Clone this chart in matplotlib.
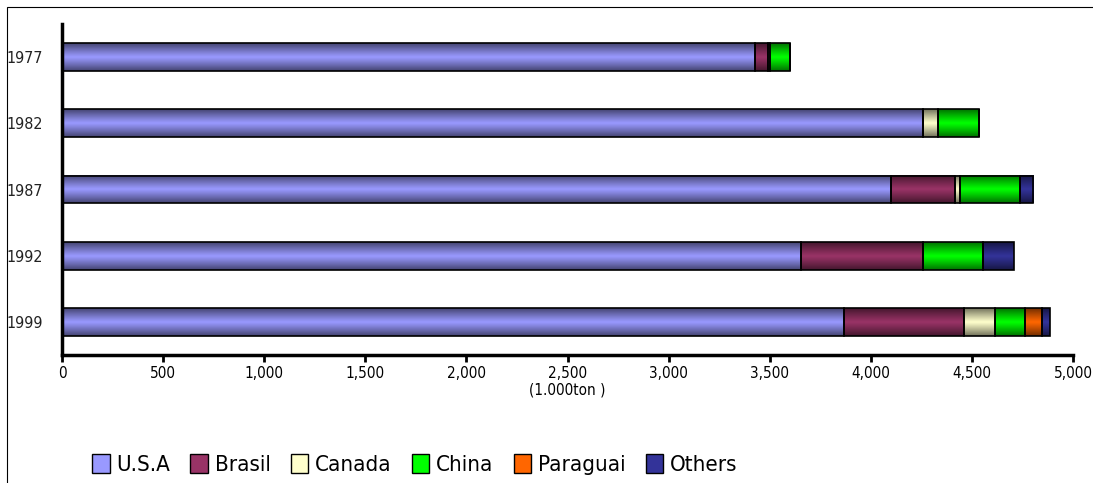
import numpy as np
import matplotlib.pyplot as plt
from matplotlib.patches import Rectangle
from matplotlib.ticker import FuncFormatter
from matplotlib.colors import to_rgb

years = ['1977', '1982', '1987', '1992', '1999']
countries = ['U.S.A', 'Brasil', 'Canada', 'China', 'Paraguai', 'Others']
colors = ['#9999FF', '#993366', '#FFFFCC', '#00FF00', '#FF6600', '#333399']

usa      = [3427, 4257, 4100, 3653, 3867]
brasil   = [65,   0,    315,  603,  592]
canada   = [10,   74,   28,   0,    155]
china    = [98,   204,  293,  299,  150]
paraguai = [0,    0,    0,    0,    83]
others   = [0,    0,    68,   152,  38]
series = [usa, brasil, canada, china, paraguai, others]

plt.rcParams['font.family'] = 'DejaVu Sans'
plt.rcParams['font.stretch'] = 'condensed'

fig = plt.figure(figsize=(10.93, 4.83), dpi=100)
ax = fig.add_axes([62/1093, 1-355/483, (1073-62)/1093, (355-24)/483])

# outer frame
fig.patches.append(Rectangle((7/1093, -0.05), 1.2, 1-7/483+0.05, transform=fig.transFigure,
                             fill=False, edgecolor='#000000', lw=0.8))

ypos = np.arange(len(years))
h = 0.42
left = np.zeros(len(years))

# vertical shading profile for each bar
prof = np.linspace(-1, 1, 40)
shade = 1 - 0.55 * np.abs(prof) ** 1.1

for vals, c, name in zip(series, colors, countries):
    vals = np.array(vals, dtype=float)
    bars = ax.barh(ypos, vals, height=h, left=left, color=c, edgecolor='black', lw=1.2,
                   label=name, zorder=3)
    rgb = np.array(to_rgb(c))
    img = np.clip(shade[:, None] * rgb[None, :], 0, 1)[:, None, :]
    for b in bars:
        if b.get_width() <= 0:
            continue
        x0, y0, w, hh = b.get_x(), b.get_y(), b.get_width(), b.get_height()
        ax.imshow(img, extent=(x0, x0 + w, y0, y0 + hh), aspect='auto', zorder=2.5,
                  interpolation='bilinear', origin='lower')
        b.set_facecolor('none')
    left += vals

ax.set_xlim(0, 5000)
ax.set_ylim(len(years) - 0.5, -0.5)
ax.set_yticks(ypos)
ax.set_yticklabels(years, fontsize=11.5, color='#222222')
ax.tick_params(axis='y', length=0, pad=14)
ax.set_xticks(np.arange(0, 5001, 500))
ax.xaxis.set_major_formatter(FuncFormatter(lambda v, p: f'{int(v):,}'))
ax.tick_params(axis='x', length=5, width=2, labelsize=11, pad=3, colors='black')
for s in ['top', 'right']:
    ax.spines[s].set_visible(False)
ax.spines['left'].set_linewidth(2.5)
ax.spines['bottom'].set_linewidth(2.5)
ax.set_xlabel('(1.000ton )', fontsize=11, labelpad=1)

handles = [Rectangle((0, 0), 1, 1, facecolor=c, edgecolor='black', lw=1) for c in colors]
fig.legend(handles, countries, loc='lower left', bbox_to_anchor=(72/1093, -0.025), ncol=6,
           frameon=False, fontsize=16, handlelength=0.8, handleheight=0.9,
           handletextpad=0.3, columnspacing=0.9)

fig.savefig('out.png', dpi=100)
